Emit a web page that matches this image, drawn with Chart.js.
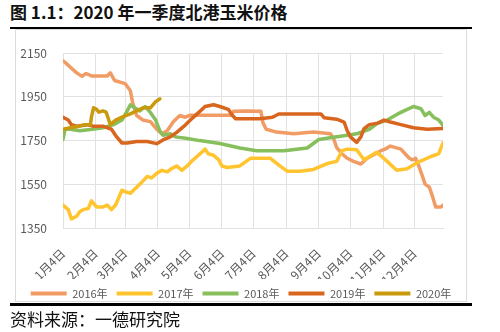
<!DOCTYPE html>
<html>
<head>
<meta charset="utf-8">
<script src="https://cdn.jsdelivr.net/npm/chart.js@4.4.1/dist/chart.umd.min.js"></script>
<style>
  body { margin: 0; width: 500px; height: 332px; background: #fff; position: relative; overflow: hidden;
         font-family: "Noto Sans CJK SC", "Noto Sans", sans-serif; }
  .title { position: absolute; left: 10px; top: 3px; font-size: 17px; font-weight: bold; line-height: 1; color: #111; white-space: nowrap; }
  .rule { position: absolute; left: 10px; width: 462px; background: #000; }
  .frame { position: absolute; left: 15px; top: 29px; width: 452px; height: 273px; box-sizing: border-box; border: 1px solid #dcdcdc; }
  .chart-box { position: absolute; left: 16px; top: 30px; width: 450px; height: 279px; }
  .source { position: absolute; left: 10px; top: 310px; font-size: 17px; line-height: 1; color: #111; white-space: nowrap; }
</style>
</head>
<body>
<div class="title">图 1.1：2020 年一季度北港玉米价格</div>
<div class="rule" style="top:27px;height:2px;"></div>
<div class="frame"></div>
<div class="chart-box"><canvas id="cornChart" width="450" height="279"></canvas></div>
<div class="rule" style="top:303px;height:3px;"></div>
<div class="source">资料来源：一德研究院</div>

<script>
// x = days since Jan 4
const monthDays = [0, 31, 59, 90, 120, 151, 181, 212, 243, 273, 304, 334];
const monthLabels = ['1月4日', '2月4日', '3月4日', '4月4日', '5月4日', '6月4日',
                     '7月4日', '8月4日', '9月4日', '10月4日', '11月4日', '12月4日'];
const yTicks = [1350, 1550, 1750, 1950, 2150];

const days2016 = [0, 2, 7, 13, 18, 22, 27, 42, 45, 49, 59, 64, 66, 70, 76, 83, 89, 94, 99, 105,
                  111, 116, 121, 140, 160, 162, 175, 188, 190, 193, 203, 219, 238, 254, 257, 260, 265, 270, 276, 283,
                  289, 297, 302, 306, 311, 316, 321, 325, 329, 332, 335, 338, 341, 344, 348, 351, 354, 359, 361];
const price2016 = [2115, 2108, 2086, 2060, 2045, 2057, 2046, 2046, 2060, 2025, 2011, 1978, 1927, 1865, 1844, 1837, 1802, 1781, 1795, 1837,
                   1865, 1857, 1866, 1866, 1866, 1884, 1885, 1884, 1831, 1802, 1789, 1781, 1789, 1781, 1760, 1718, 1690, 1669, 1655, 1643,
                   1669, 1690, 1704, 1711, 1725, 1718, 1711, 1690, 1669, 1662, 1669, 1634, 1593, 1551, 1537, 1495, 1446, 1446, 1455];

const days2017 = [0, 5, 8, 13, 16, 19, 24, 27, 32, 38, 42, 46, 50, 56, 59, 64, 70, 76, 80, 84,
                  89, 94, 99, 103, 108, 113, 118, 122, 127, 132, 135, 138, 143, 148, 151, 156, 168, 178, 197, 206,
                  213, 225, 238, 251, 260, 265, 270, 279, 286, 298, 308, 317, 327, 336, 349, 357, 361];
const price2017 = [1455, 1434, 1392, 1404, 1425, 1434, 1439, 1474, 1446, 1446, 1455, 1434, 1455, 1523, 1516, 1509, 1537, 1565, 1586, 1579,
                   1600, 1614, 1607, 1621, 1634, 1614, 1634, 1655, 1676, 1697, 1711, 1690, 1683, 1662, 1634, 1627, 1634, 1669, 1669, 1634,
                   1610, 1610, 1618, 1645, 1655, 1704, 1711, 1708, 1662, 1697, 1655, 1614, 1621, 1648, 1676, 1690, 1740];

const days2018 = [0, 2, 7, 16, 28, 38, 48, 56, 61, 64, 68, 73, 78, 83, 88, 92, 95, 102, 107, 118,
                  130, 149, 168, 184, 210, 232, 243, 257, 270, 279, 291, 299, 308, 318, 324, 333, 340, 344, 348, 352,
                  357, 361];
const price2018 = [1755, 1802, 1802, 1795, 1802, 1809, 1823, 1844, 1886, 1914, 1900, 1886, 1906, 1879, 1844, 1795, 1774, 1781, 1767, 1760,
                   1750, 1737, 1716, 1704, 1704, 1716, 1755, 1765, 1774, 1781, 1802, 1830, 1844, 1872, 1886, 1906, 1896, 1865, 1879, 1857,
                   1844, 1820];

const days2019 = [0, 5, 8, 13, 23, 29, 38, 46, 51, 56, 61, 70, 80, 89, 95, 102, 108, 115, 121, 129,
                  135, 143, 149, 157, 161, 164, 187, 199, 205, 226, 245, 248, 260, 267, 270, 273, 279, 283, 286, 291,
                  299, 305, 311, 321, 333, 346, 361];
const price2019 = [1857, 1844, 1823, 1816, 1823, 1816, 1816, 1802, 1767, 1739, 1739, 1746, 1746, 1736, 1753, 1767, 1788, 1816, 1844, 1879,
                   1906, 1914, 1906, 1893, 1865, 1850, 1850, 1857, 1872, 1872, 1872, 1855, 1848, 1835, 1795, 1767, 1742, 1767, 1805, 1823,
                   1830, 1844, 1835, 1823, 1809, 1802, 1805];

const days2020 = [0, 7, 15, 21, 26, 27, 29, 32, 34, 38, 41, 45, 50, 56, 64, 70, 76, 83, 88, 92];
const price2020 = [1802, 1809, 1816, 1823, 1823, 1857, 1900, 1893, 1880, 1886, 1880, 1823, 1844, 1857, 1872, 1886, 1900, 1900, 1928, 1941];

const toPoints = (days, values) => days.map((d, i) => ({ x: d, y: values[i] }));

const series = [
    { label: '2016年', days: days2016, values: price2016, color: '#F19C65' },
    { label: '2017年', days: days2017, values: price2017, color: '#FFC42E' },
    { label: '2018年', days: days2018, values: price2018, color: '#86BF5C' },
    { label: '2019年', days: days2019, values: price2019, color: '#D9661F' },
    { label: '2020年', days: days2020, values: price2020, color: '#C99A0E' }
];

const gridColor = '#e2e2e2';
const textColor = '#595959';
const fontFamily = '"Noto Sans CJK SC", "Noto Sans", sans-serif';

const ctx = document.getElementById('cornChart').getContext('2d');
new Chart(ctx, {
    type: 'line',
    data: {
        datasets: series.map((s, i) => ({
            label: s.label,
            data: toPoints(s.days, s.values),
            borderColor: s.color,
            backgroundColor: s.color,
            borderWidth: 3.5,
            borderJoinStyle: 'round',
            borderCapStyle: 'round',
            pointRadius: 0,
            tension: 0,
            order: series.length - i   // later years drawn on top
        }))
    },
    options: {
        responsive: false,
        animation: false,
        layout: { padding: { top: 7, right: 0, left: 0, bottom: 0 } },
        plugins: {
            tooltip: { enabled: false },
            legend: {
                position: 'bottom',
                labels: {
                    boxWidth: 36,
                    boxHeight: 4,
                    padding: 9,
                    color: textColor,
                    font: { size: 11, family: fontFamily },
                    sort: (a, b) => a.datasetIndex - b.datasetIndex,
                    generateLabels: chart => Chart.defaults.plugins.legend.labels.generateLabels(chart)
                        .map(item => ({ ...item, lineWidth: 0 }))
                }
            }
        },
        scales: {
            x: {
                type: 'linear',
                min: 0,
                max: 361,
                afterBuildTicks: axis => { axis.ticks = monthDays.map(v => ({ value: v })); },
                afterFit: axis => { axis.height = 51; },
                ticks: {
                    autoSkip: false,
                    minRotation: 45,
                    maxRotation: 45,
                    padding: 18,
                    color: textColor,
                    font: { size: 12, family: fontFamily },
                    callback: (value) => monthLabels[monthDays.indexOf(value)]
                },
                grid: { color: gridColor, drawTicks: false, tickLength: 0 },
                border: { color: gridColor }
            },
            y: {
                min: 1350,
                max: 2150,
                afterBuildTicks: axis => { axis.ticks = yTicks.map(v => ({ value: v })); },
                afterFit: axis => { axis.width = 47; },
                ticks: {
                    padding: 16,
                    color: textColor,
                    font: { size: 12, family: fontFamily },
                    callback: (value) => String(value)
                },
                grid: { color: gridColor, drawTicks: false, tickLength: 0 },
                border: { color: gridColor }
            },
            // empty right-hand spacer so the plot stops short of the frame
            yRight: {
                position: 'right',
                grid: { display: false },
                ticks: { display: false },
                border: { display: false },
                afterFit: axis => { axis.width = 23; }
            }
        }
    }
});
</script>
</body>
</html>
